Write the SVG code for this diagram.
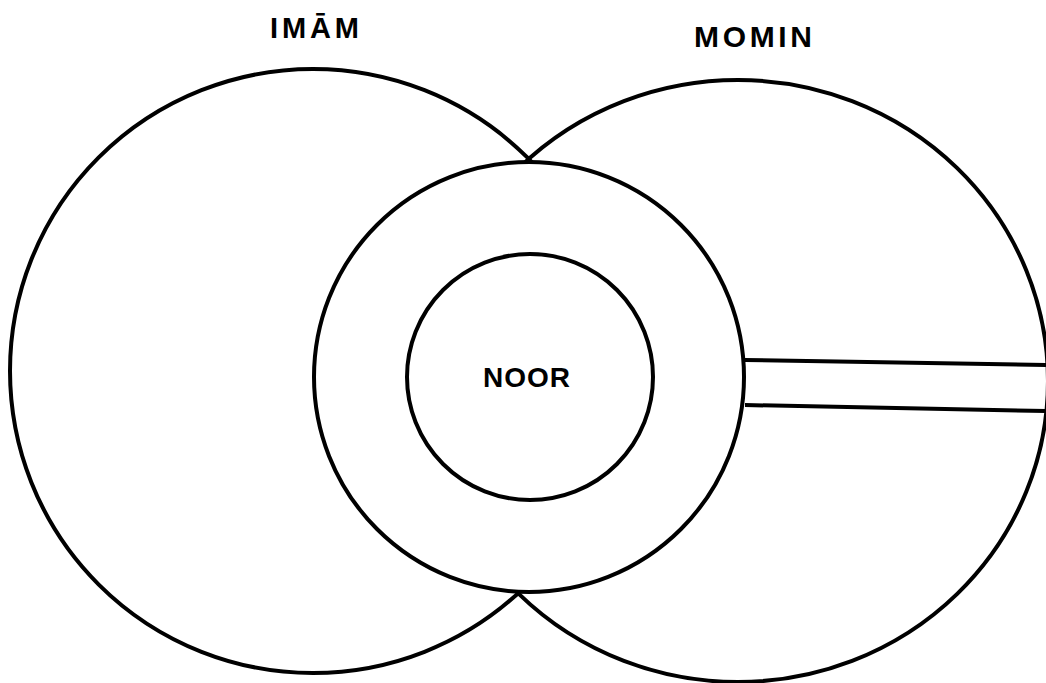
<svg xmlns="http://www.w3.org/2000/svg" width="1046" height="683" viewBox="0 0 1046 683">
<style>
.ln{fill:none;stroke:#000;stroke-width:4}
.wf{fill:#fff;stroke:#000;stroke-width:4}
.t{font-family:"Liberation Sans",Arial,sans-serif;font-weight:bold;fill:#000}
</style>
<rect width="1046" height="683" fill="#fff"/>
<g id="imam">
<ellipse class="ln" cx="313" cy="371" rx="303" ry="302"/>
<text class="t" x="270" y="38" font-size="29" textLength="89" lengthAdjust="spacing">IMĀM</text>
</g>
<g id="momin">
<ellipse class="ln" cx="738" cy="381" rx="310" ry="301"/>
<text class="t" x="694" y="47" font-size="30" textLength="118" lengthAdjust="spacing">MOMIN</text>
</g>
<g id="ring">
<circle class="wf" cx="529" cy="377" r="215"/>
</g>
<g id="noor">
<circle class="wf" cx="530" cy="377" r="123"/>
<text class="t" x="483" y="387" font-size="28" textLength="87" lengthAdjust="spacing">NOOR</text>
</g>
<g id="connectors">
<line class="ln" x1="745" y1="360" x2="1046" y2="365"/>
<line class="ln" x1="745" y1="405" x2="1046" y2="411"/>
</g>
</svg>
